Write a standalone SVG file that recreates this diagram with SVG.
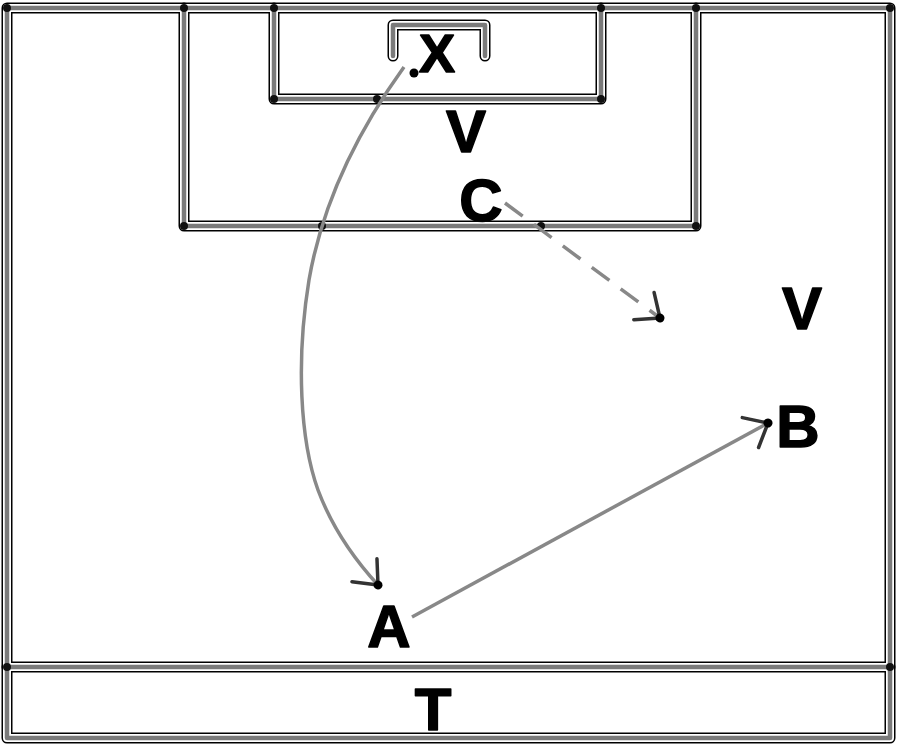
<svg xmlns="http://www.w3.org/2000/svg" xmlns:xlink="http://www.w3.org/1999/xlink" width="900" height="749" viewBox="0 0 900 749">
<style>
.l1{fill:none;stroke:#000;stroke-width:11;stroke-linejoin:round;stroke-linecap:round}
.l2{fill:none;stroke:#fff;stroke-width:8;stroke-linejoin:round;stroke-linecap:round}
.l3{fill:none;stroke:#7a7a7a;stroke-width:4.5;stroke-linejoin:round;stroke-linecap:round}
.dot{fill:#111}
.lbl{font-family:"Liberation Sans",Arial,sans-serif;font-weight:bold;font-size:60px;fill:#000;stroke:#000;stroke-width:1.5;stroke-linejoin:round;text-anchor:middle}
.mv{fill:none;stroke:#888;stroke-width:3.5}
.dash{stroke-dasharray:22 14}
</style>
<defs>
<g id="lines">
<rect x="7" y="8" width="883" height="730"/>
<path d="M7,667 H890"/>
<path d="M184,8 V226 H696 V8"/>
<path d="M274,8 V99 H601 V8"/>
<path d="M393,56 V25 H485 V56"/>
</g>
<marker id="ah" markerUnits="userSpaceOnUse" viewBox="-26 -20 32 40" refX="0" refY="0" markerWidth="32" markerHeight="40" orient="auto">
<path d="M-20,-17 L0,0 L-20,17" fill="none" stroke="#333" stroke-width="3.5" stroke-linecap="round" stroke-linejoin="round"/>
<circle cx="0" cy="0" r="4.5" fill="#000"/>
</marker>
</defs>
<rect width="900" height="749" fill="#fff"/>
<g id="pitch">
<use xlink:href="#lines" class="l1"/>
<use xlink:href="#lines" class="l2"/>
<use xlink:href="#lines" class="l3"/>
<circle class="dot" cx="7" cy="8" r="4"/>
<circle class="dot" cx="184" cy="8" r="4"/>
<circle class="dot" cx="274" cy="8" r="4"/>
<circle class="dot" cx="601" cy="8" r="4"/>
<circle class="dot" cx="696" cy="8" r="4"/>
<circle class="dot" cx="890" cy="8" r="4"/>
<circle class="dot" cx="274" cy="99" r="4"/>
<circle class="dot" cx="601" cy="99" r="4"/>
<circle class="dot" cx="377" cy="99" r="4"/>
<circle class="dot" cx="184" cy="226" r="4"/>
<circle class="dot" cx="696" cy="226" r="4"/>
<circle class="dot" cx="322" cy="226" r="4"/>
<circle class="dot" cx="541" cy="226" r="4"/>
<circle class="dot" cx="7" cy="667" r="4"/>
<circle class="dot" cx="890" cy="667" r="4"/>
</g>
<g id="connectors">
<path class="mv" d="M404,67 C355,135 322,205 309,280 C296,360 300,440 318,490 C333,530 355,560 378,585" marker-end="url(#ah)"/>
<path class="mv dash" d="M505,203 L660,318" marker-end="url(#ah)"/>
<path class="mv" d="M412,617 L768,423" marker-end="url(#ah)"/>
</g>
<g id="ball"><circle cx="414" cy="73" r="4.5" fill="#000"/></g>
<g id="node-X"><text class="lbl" x="437" y="72" style="font-size:54px">X</text></g>
<g id="node-V1"><text class="lbl" x="466" y="152">V</text></g>
<g id="node-C"><text class="lbl" x="481" y="221">C</text></g>
<g id="node-V2"><text class="lbl" x="802" y="329">V</text></g>
<g id="node-B"><text class="lbl" x="798" y="447">B</text></g>
<g id="node-A"><text class="lbl" x="389" y="647">A</text></g>
<g id="node-T"><text class="lbl" x="433" y="730">T</text></g>
</svg>
